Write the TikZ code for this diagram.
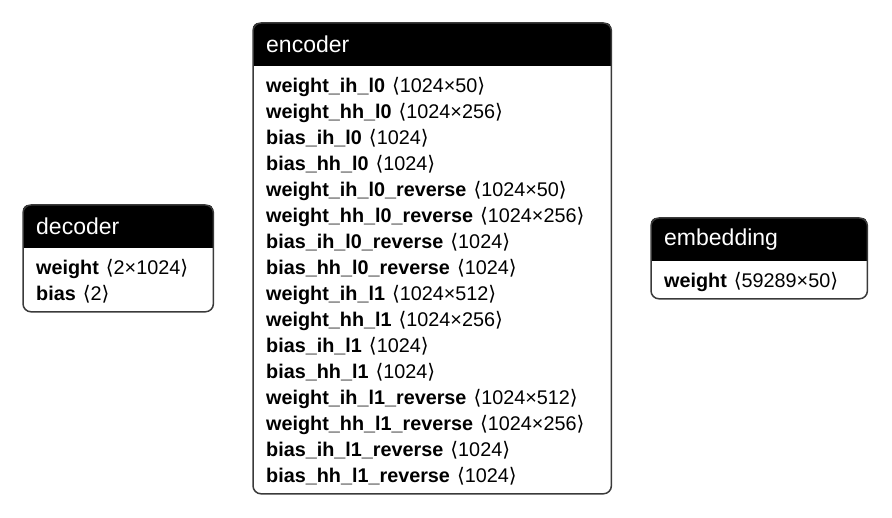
\documentclass[tikz,border=0pt]{standalone}
\usepackage{fontspec}
\setmainfont{Liberation Sans}
\newfontfamily\brkfont{DejaVu Sans}
\usetikzlibrary{positioning, fit, backgrounds}

\definecolor{frameline}{HTML}{3A3A3A}
\newcommand{\prow}[2]{\rule[-6pt]{0pt}{26pt}\textbf{#1}\hspace{7pt}{\brkfont\fontsize{20}{26}\selectfont ⟨}#2{\brkfont\fontsize{20}{26}\selectfont ⟩}}

\tikzstyle{head} = [rectangle, anchor=north west, text=white, align=left,
  inner xsep=13pt, inner ysep=0pt, minimum height=43pt, font=\fontsize{23}{23}\selectfont]
\tikzstyle{body} = [rectangle, align=left, inner xsep=13pt, inner ysep=5.5pt,
  font=\fontsize{19.8}{26}\selectfont]
\tikzstyle{frame} = [rectangle, draw=frameline, line width=1.5pt, rounded corners=8pt,
  inner sep=0pt]

\begin{document}
\begin{tikzpicture}[x=1pt, y=-1pt]
  \useasboundingbox (0,0) rectangle (892,518);

  % encoder
  \node [head, text width=332pt] (encHead) at (253,23) {encoder};
  \node [body, text width=332pt, below=0pt of encHead] (encBody) {%
    \prow{weight\_ih\_l0}{1024×50}\\
    \prow{weight\_hh\_l0}{1024×256}\\
    \prow{bias\_ih\_l0}{1024}\\
    \prow{bias\_hh\_l0}{1024}\\
    \prow{weight\_ih\_l0\_reverse}{1024×50}\\
    \prow{weight\_hh\_l0\_reverse}{1024×256}\\
    \prow{bias\_ih\_l0\_reverse}{1024}\\
    \prow{bias\_hh\_l0\_reverse}{1024}\\
    \prow{weight\_ih\_l1}{1024×512}\\
    \prow{weight\_hh\_l1}{1024×256}\\
    \prow{bias\_ih\_l1}{1024}\\
    \prow{bias\_hh\_l1}{1024}\\
    \prow{weight\_ih\_l1\_reverse}{1024×512}\\
    \prow{weight\_hh\_l1\_reverse}{1024×256}\\
    \prow{bias\_ih\_l1\_reverse}{1024}\\
    \prow{bias\_hh\_l1\_reverse}{1024}};

  % decoder
  \node [head, text width=164pt] (decHead) at (23,205) {decoder};
  \node [body, text width=164pt, below=0pt of decHead] (decBody) {%
    \prow{weight}{2×1024}\\
    \prow{bias}{2}};

  % embedding
  \node [head, text width=190pt] (embHead) at (651,218) {embedding};
  \node [body, text width=190pt, below=0pt of embHead] (embBody) {%
    \prow{weight}{59289×50}};

  \node [frame, fit=(encHead) (encBody)] (encFrame) {};
  \node [frame, fit=(decHead) (decBody)] (decFrame) {};
  \node [frame, fit=(embHead) (embBody)] (embFrame) {};

  % black title bars
  \begin{scope}[on background layer]
    \begin{scope}
      \clip [rounded corners=8pt] (encFrame.south west) rectangle (encFrame.north east);
      \fill [black] (encHead.south west) rectangle (encHead.north east);
    \end{scope}
    \begin{scope}
      \clip [rounded corners=8pt] (decFrame.south west) rectangle (decFrame.north east);
      \fill [black] (decHead.south west) rectangle (decHead.north east);
    \end{scope}
    \begin{scope}
      \clip [rounded corners=8pt] (embFrame.south west) rectangle (embFrame.north east);
      \fill [black] (embHead.south west) rectangle (embHead.north east);
    \end{scope}
  \end{scope}
\end{tikzpicture}
\end{document}
